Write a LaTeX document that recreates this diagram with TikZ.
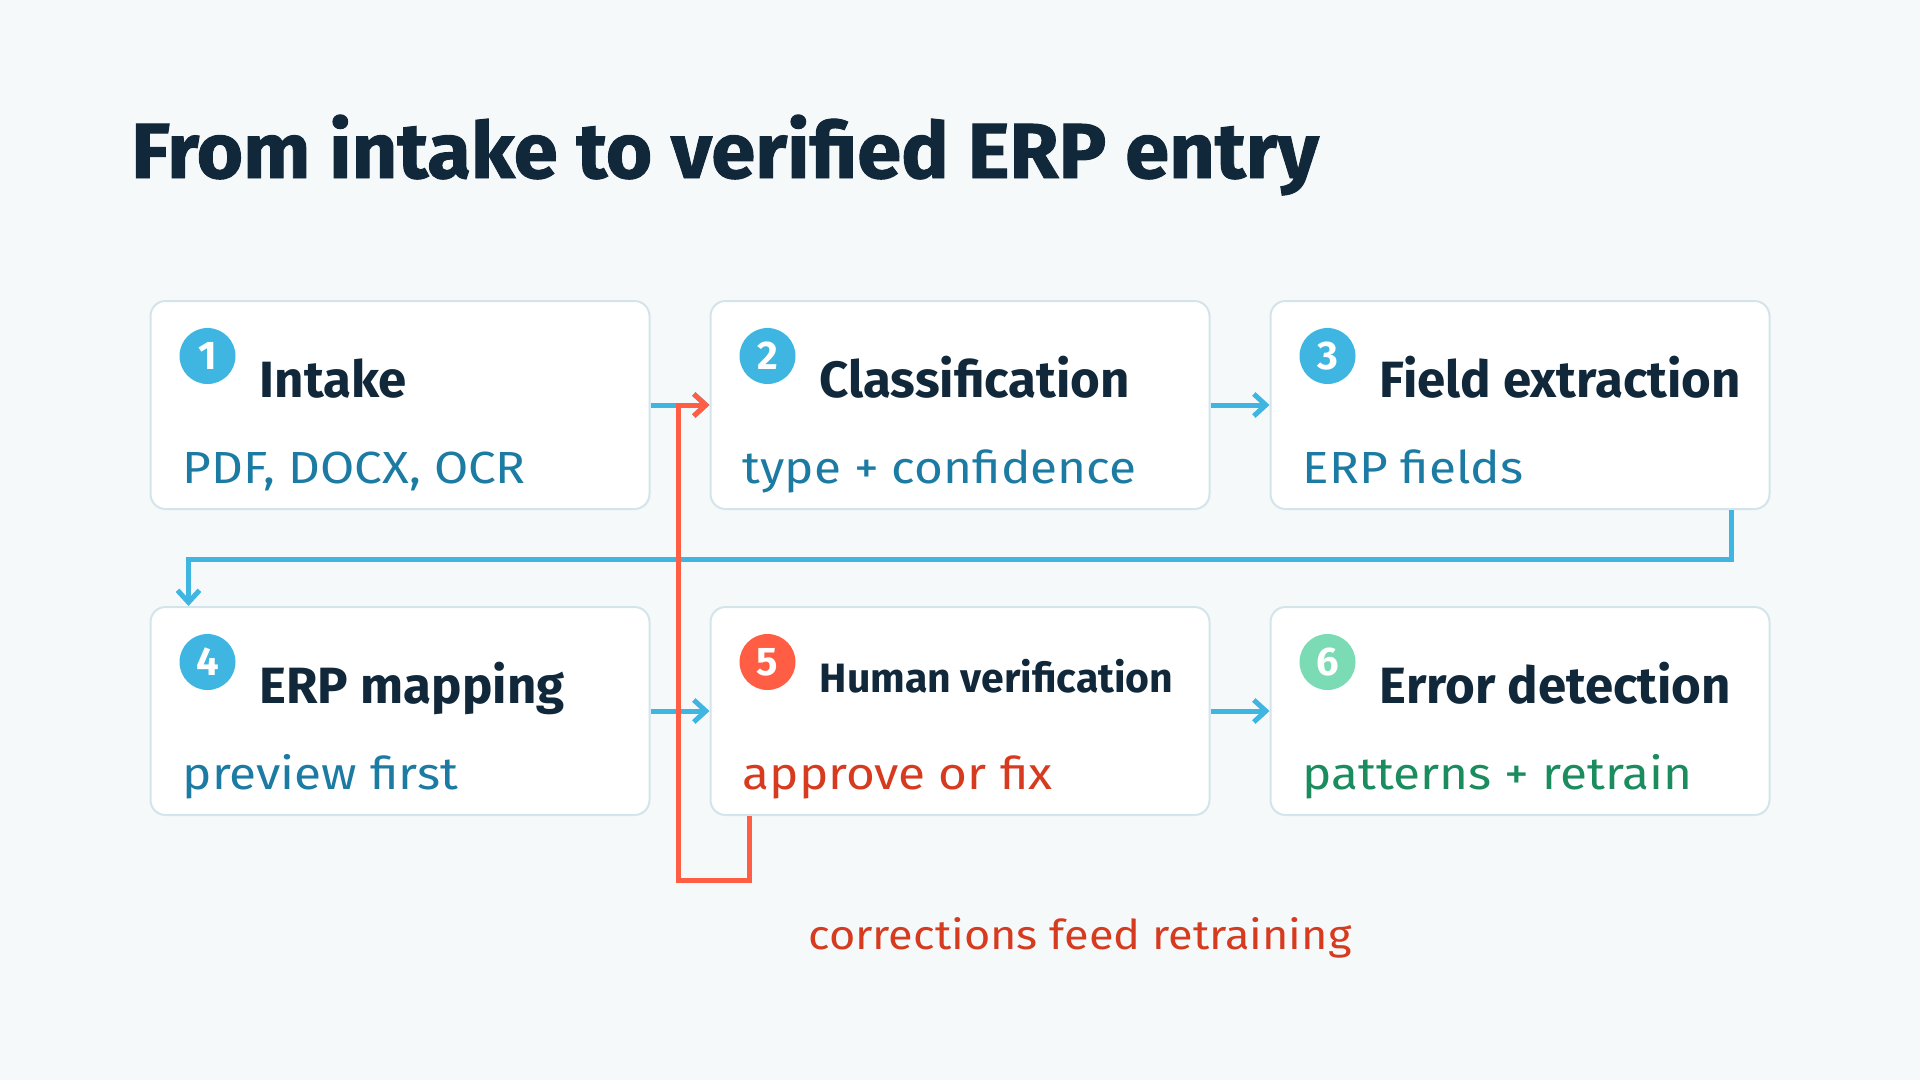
\documentclass[tikz,border=0pt]{standalone}
\usepackage{fontspec}
\setmainfont{Fira Sans}
\newfontfamily\headfont{Fira Sans}[FakeStretch=1.02,FakeBold=1.2]
\newfontfamily\subfont{Fira Sans}[FakeStretch=1.1]
\usetikzlibrary{arrows.meta}
\usetikzlibrary{positioning}
\usetikzlibrary{calc}
\definecolor{bgcol}{HTML}{F5F9FA}
\definecolor{ink}{HTML}{10283A}
\definecolor{edgecol}{HTML}{D3E4EA}
\definecolor{sky}{HTML}{3FB6E2}
\definecolor{skytext}{HTML}{1C7BA3}
\definecolor{coral}{HTML}{FF5E45}
\definecolor{coraltext}{HTML}{D63B1F}
\definecolor{mint}{HTML}{7ADBB5}
\definecolor{minttext}{HTML}{1A8C5E}
\newcommand{\TS}[1]{\fontsize{#1}{#1}\selectfont}
\newcommand{\Stage}[8]{\node[stagebox] (#1) at (#2) {};
                       \node[badge,fill=#4] (#1n) at ($(#1.north west)+(58,56)$) {#3};
                       \node[stagetitle] (#1t) at ($(#1.north west)+(110,#8)$) {#5};
                       \node[stagesub,text=#7] (#1s) at ($(#1.north west)+(33,183)$) {#6};}
\tikzset{
    stagebox/.style={draw=edgecol,fill=white,line width=2pt,rounded corners=15pt,minimum width=499pt,minimum height=208pt},
    badge/.style={circle,minimum size=56pt,inner sep=0pt,text=white,font=\bfseries\TS{40}},
    stagetitle/.style={anchor=base west,inner sep=0pt,text=ink,font=\bfseries\TS{51}},
    stagesub/.style={anchor=base west,inner sep=0pt,font=\subfont\TS{45}},
    flow/.style={draw=sky,line width=5pt,-{Straight Barb[length=12pt,width=22pt]}},
    loopback/.style={draw=coral,line width=5pt,-{Straight Barb[length=12pt,width=22pt]}}
}

\begin{document}
\begin{tikzpicture}[x=1pt,y=-1pt]
    \fill[bgcol] (0,0) rectangle (1920,1080);
    \useasboundingbox (0,0) rectangle (1920,1080);

    \node[anchor=base west,inner sep=0pt,text=ink,font=\headfont\bfseries\TS{78}] (heading) at (131,178) {From intake to verified ERP entry};

    \Stage{s1}{400,405}{1}{sky}{Intake}{PDF, DOCX, OCR}{skytext}{97}
    \Stage{s2}{960,405}{2}{sky}{Classification}{type + confidence}{skytext}{97}
    \Stage{s3}{1520,405}{3}{sky}{Field extraction}{ERP fields}{skytext}{97}
    \Stage{s4}{400,711}{4}{sky}{ERP mapping}{preview first}{skytext}{97}
    \Stage{s5}{960,711}{5}{coral}{\TS{41}Human verification}{approve or fix}{coraltext}{86}
    \Stage{s6}{1520,711}{6}{mint}{Error detection}{patterns + retrain}{minttext}{97}

    \coordinate (t3) at ($(s3.south east)+(-39,0)$);
    \coordinate (t4) at ($(s4.north west)+(39,0)$);
    \coordinate (r5) at ($(s5.south west)+(40,0)$);
    \coordinate (r2) at ($(s2.west)+(-31,0)$);

    \draw[flow] (s1) -- (s2);
    \draw[flow] (s2) -- (s3);
    \draw[flow] (t3) -- ++(0,49) -| (t4);
    \draw[flow] (s4) -- (s5);
    \draw[flow] (s5) -- (s6);
    \draw[loopback] (r5) -- ++(0,64) -| (r2) -- (s2.west);

    \node[anchor=base,inner sep=0pt,text=coraltext,font=\subfont\TS{41}] (fbnote) at (1080,949) {corrections feed retraining};
\end{tikzpicture}
\end{document}
